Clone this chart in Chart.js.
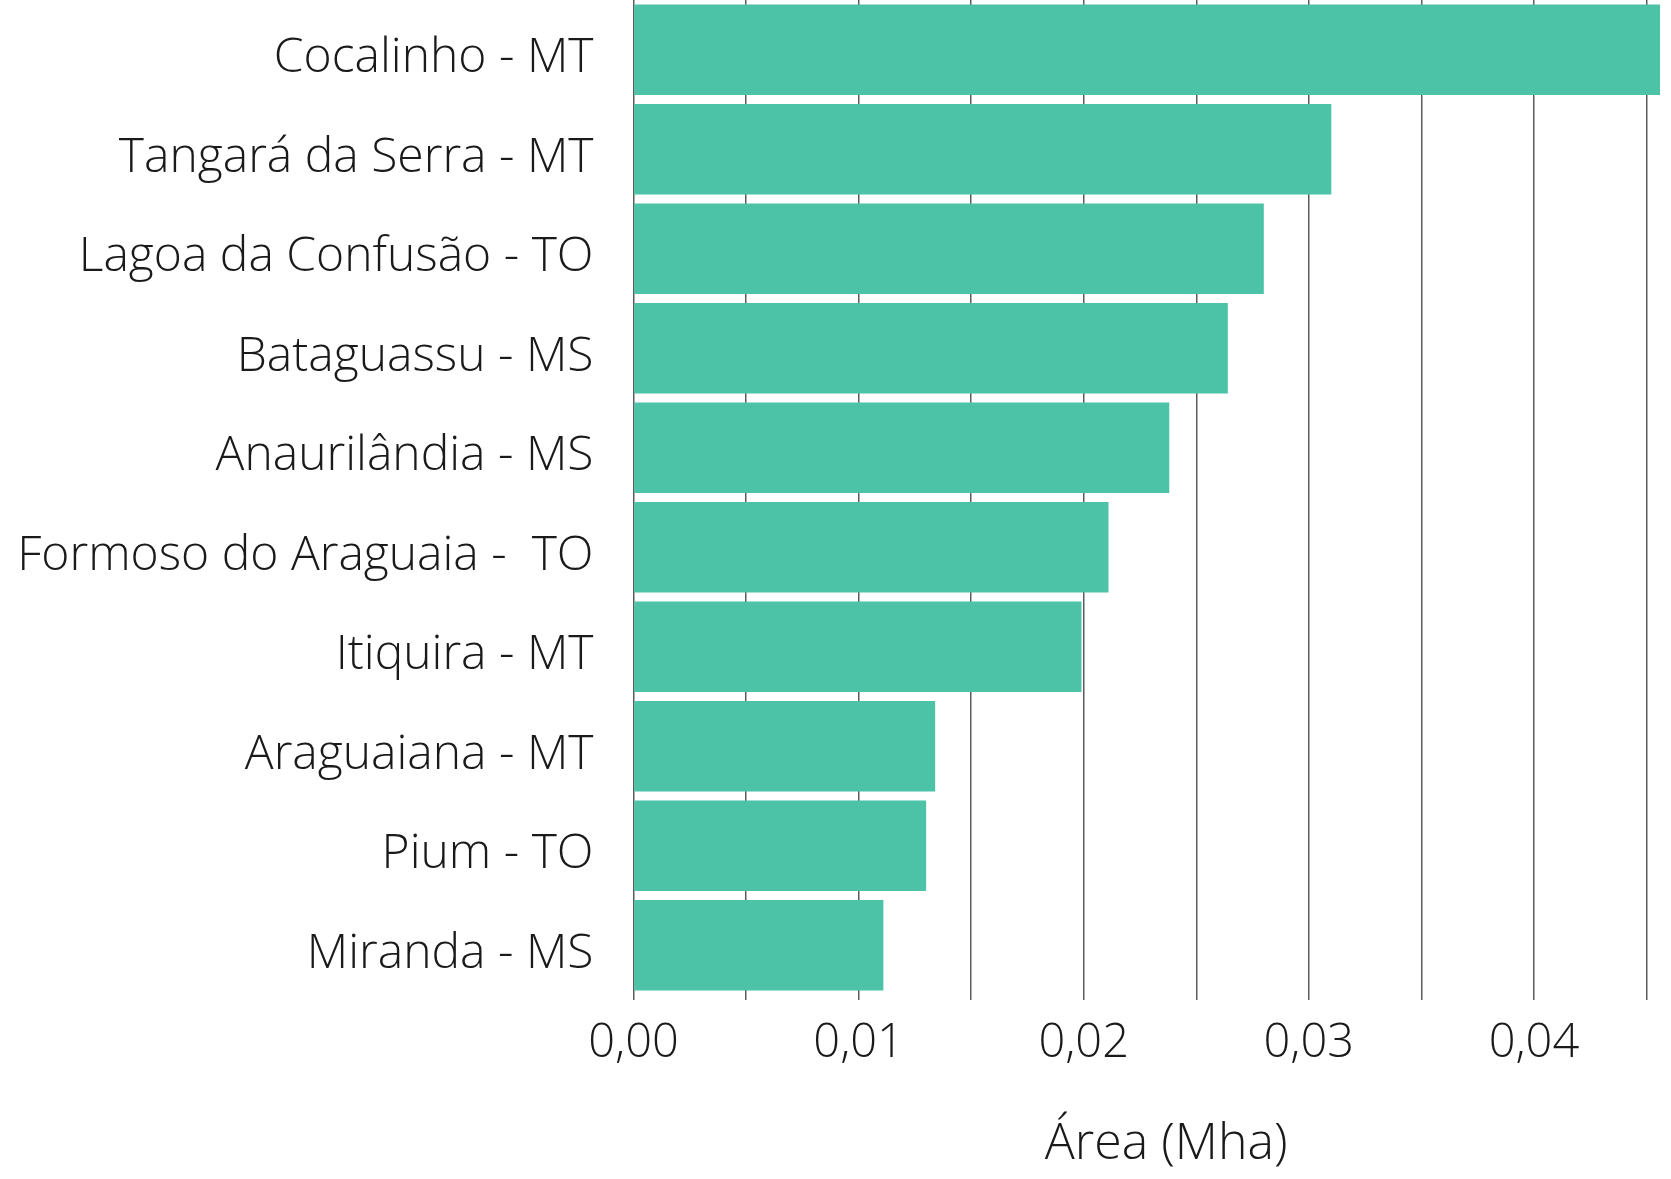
<!DOCTYPE html>
<html>
<head>
<meta charset="utf-8">
<script src="https://cdn.jsdelivr.net/npm/chart.js@4.4.1/dist/chart.umd.min.js"></script>
<style>
    html, body { margin: 0; padding: 0; background: #ffffff; }
    #wrap { width: 1671px; height: 1179px; }
</style>
</head>
<body>
<div id="wrap"><canvas id="myChart" width="1671" height="1179"></canvas></div>
<script>
// DATA
const municipios= ['Cocalinho - MT', 'Tangará da Serra - MT', 'Lagoa da Confusão - TO', 'Bataguassu - MS', 'Anaurilândia - MS',
                   'Formoso do Araguaia -  TO', 'Itiquira - MT', 'Araguaiana - MT', 'Pium - TO', 'Miranda - MS'];
const areaMha= [0.0456, 0.0310, 0.0280, 0.0264, 0.0238, 0.0211, 0.0199, 0.0134, 0.0130, 0.0111];
const gridValues= [0, 0.005, 0.01, 0.015, 0.02, 0.025, 0.03, 0.035, 0.04, 0.045];   // one grid line every 0,005
const tickLabels= ['0,00', '0,01', '0,02', '0,03', '0,04'];                           // labelled every other line
const axisTitle= 'Área (Mha)';

// styling
const fontFamily= "'Open Sans', 'DejaVu Sans', sans-serif";
const fontWeight= '300';
const textColor= '#1a1a1a';
const barColor= '#4cc3a7';
const gridColor= '#5c5c5c';

const canvasElement= document.getElementById('myChart');

new Chart(canvasElement, {
    type: 'bar',
    data: {
        labels: municipios,
        datasets: [{
            label: axisTitle,
            data: areaMha,
            backgroundColor: barColor,
            borderWidth: 0,
            barPercentage: 0.91,
            categoryPercentage: 1,
        }],
    },
    options: {
        indexAxis: 'y',
        responsive: false,
        animation: false,
        devicePixelRatio: 1,
        layout: {
            padding: {top: 0, right: 11, bottom: 0, left: 0},
        },
        plugins: {
            legend: {display: false},
            tooltip: {enabled: false},
        },
        scales: {
            x: {
                min: 0,
                max: Math.max(...areaMha),
                afterBuildTicks: (axis) => {
                    axis.ticks= gridValues.map(v => ({value: v}));
                },
                afterFit: (axis) => {
                    axis.height= 184;
                },
                grid: {
                    color: gridColor,
                    lineWidth: 1.5,
                    drawTicks: true,
                    tickLength: 5,
                },
                border: {display: false},
                ticks: {
                    autoSkip: false,
                    maxRotation: 0,
                    padding: 15,
                    color: textColor,
                    font: {family: fontFamily, size: 47, weight: fontWeight},
                    // only every second grid line gets a label
                    callback: (value, index) => (index % 2 === 0 && tickLabels[index / 2] !== undefined) ? tickLabels[index / 2] : '',
                },
                title: {
                    display: true,
                    text: '\u00a0\u00a0\u00a0' + axisTitle,
                    color: textColor,
                    font: {family: fontFamily, size: 50, weight: fontWeight},
                    padding: {top: 0, bottom: 4},
                },
            },
            y: {
                afterFit: (axis) => {
                    // fixed width, and no extra room above the first / below the last label
                    axis.width= 633.5;
                    axis.paddingTop= 0;
                    axis.paddingBottom= 0;
                },
                grid: {display: false, drawTicks: false},
                border: {display: false},
                ticks: {
                    padding: 40,
                    labelOffset: 9,     // names sit a little below the bar centre
                    color: textColor,
                    font: {family: fontFamily, size: 48, weight: fontWeight},
                },
            },
        },
    },
});
</script>
</body>
</html>
